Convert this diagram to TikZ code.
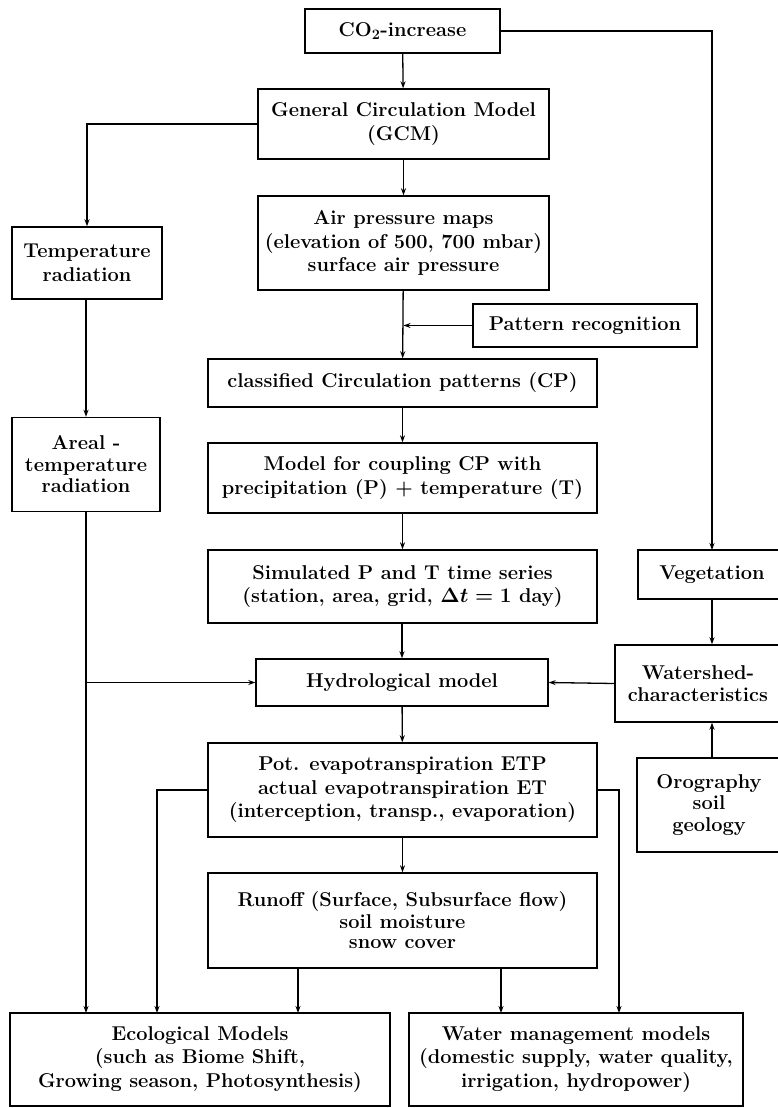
\documentclass[tikz,border=0pt]{standalone}
\usepackage{fontspec}
\usetikzlibrary{arrows.meta}
\newcommand{\bxfont}{\fontsize{20}{23.5}\selectfont\bfseries}
\begin{document}
\begin{tikzpicture}[x=1pt,y=-1pt,
  box/.style={draw,line width=1.4pt,inner sep=0pt,align=center,
    font=\bxfont\boldmath},
  tight/.style={font=\fontsize{20}{21.5}\selectfont\bfseries},
  arr/.style={line width=1.3pt,-{Stealth[length=7pt,width=5pt]}}]
\useasboundingbox (0,0) rectangle (777,1108);
% boxes
\node[box,minimum width=195pt,minimum height=44pt] (co2) at (402.5,31) {CO$_2$-increase};
\node[box,minimum width=291pt,minimum height=70pt] (gcm) at (403.5,124) {General Circulation Model\\(GCM)};
\node[box,minimum width=150pt,minimum height=72pt] (temp) at (87,263) {Temperature\\radiation};
\node[box,minimum width=291pt,minimum height=94pt] (air) at (403.5,243) {Air pressure maps\\(elevation of 500, 700 mbar)\\surface air pressure};
\node[box,minimum width=224pt,minimum height=43pt] (pat) at (585,325.5) {Pattern recognition};
\node[box,minimum width=389pt,minimum height=48pt] (ccp) at (402.5,383) {classified Circulation patterns (CP)};
\node[box,tight,minimum width=148pt,minimum height=94pt] (areal) at (86,464.5) {Areal -\\temperature\\radiation};
\node[box,minimum width=389pt,minimum height=70pt] (coup) at (402.5,478) {Model for coupling CP with\\precipitation (P) + temperature (T)};
\node[box,minimum width=389pt,minimum height=73pt] (sim) at (402.5,586.5) {Simulated P and T time series\\(station, area, grid, $\Delta t = 1$ day)};
\node[box,minimum width=148pt,minimum height=49pt] (veg) at (712,574.5) {Vegetation};
\node[box,minimum width=292pt,minimum height=47pt] (hyd) at (402,682.5) {Hydrological model};
\node[box,tight,minimum width=166pt,minimum height=77pt] (ws) at (698,683.5) {Watershed-\\characteristics};
\node[box,minimum width=389pt,minimum height=94pt] (pet) at (402.5,790) {Pot. evapotranspiration ETP\\actual evapotranspiration ET\\(interception, transp., evaporation)};
\node[box,tight,minimum width=144pt,minimum height=94pt] (oro) at (709,805) {Orography\\soil\\geology};
\node[box,minimum width=389pt,minimum height=95pt] (run) at (402.5,920.5) {Runoff (Surface, Subsurface flow)\\[-2pt]soil moisture\\[-3pt]snow cover};
\node[box,minimum width=380pt,minimum height=93pt] (eco) at (200,1059.5) {Ecological Models\\(such as Biome Shift,\\Growing season, Photosynthesis)};
\node[box,minimum width=334pt,minimum height=93pt] (wm) at (576,1059.5) {Water management models\\(domestic supply, water quality,\\irrigation, hydropower)};
% coordinates for arrow ends on the bottom boxes
\coordinate (e1) at (86,1013);
\coordinate (e2) at (157,1013);
\coordinate (e3) at (298,1013);
\coordinate (w1) at (501,1013);
\coordinate (w2) at (619,1013);
\coordinate (h1) at (86,682.5);
\coordinate (vx) at (712,550);
% connectors
\draw[arr] (co2) -- (gcm);
\draw[arr] (co2.east) -| (vx);
\draw[arr] (gcm.west) -| (temp.north);
\draw[arr] (gcm) -- (air);
\draw[arr] (temp.south -| areal.north) -- (areal.north);
\draw[arr] (air) -- (ccp);
\draw[arr] (pat.west) -- (pat.west -| air.south);
\draw[arr] (ccp) -- (coup);
\draw[arr] (coup) -- (sim);
\draw[arr] (sim.south -| hyd.north) -- (hyd.north);
\draw[arr] (hyd) -- (pet);
\draw[arr] (pet) -- (run);
\draw[arr] (areal.south) -- (e1);
\draw[arr] (h1) -- (hyd.west);
\draw[arr] (veg.south) -- (veg.south |- ws.north);
\draw[arr] (oro.north -| veg.south) -- (veg.south |- ws.south);
\draw[arr] (ws.west) -- (hyd.east);
\draw[arr] (pet.west) -| (e2);
\draw[arr] (pet.east) -| (w2);
\draw[arr] (run.south -| e3) -- (e3);
\draw[arr] (run.south -| w1) -- (w1);
\end{tikzpicture}
\end{document}
